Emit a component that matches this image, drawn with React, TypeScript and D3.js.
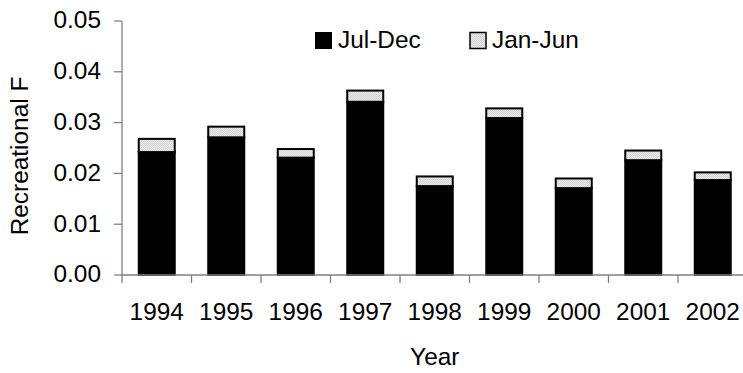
import React from "react";
import * as d3 from "d3";

const years = ["1994", "1995", "1996", "1997", "1998", "1999", "2000", "2001", "2002"];
const julDec = [0.0242, 0.0271, 0.0231, 0.0341, 0.0175, 0.0309, 0.0171, 0.0226, 0.0187];
const janJun = [0.0026, 0.0021, 0.0017, 0.0022, 0.0019, 0.0019, 0.0019, 0.0019, 0.0015];
const yTicks = [0, 0.01, 0.02, 0.03, 0.04, 0.05];
const seriesNames = ["Jul-Dec", "Jan-Jun"];

const W = 743;
const H = 373;
const FONT = "'Liberation Sans', Arial, sans-serif";
const FS = 24.4;

export default function App() {
  const x0 = 122;
  const x1 = 747.5;
  const yTop = 21;
  const yBot = 275;
  const y = d3.scaleLinear().domain([0, 0.05]).range([yBot, yTop]);
  const x = d3.scaleBand<string>().domain(years).range([x0, x1]).padding(0);
  const bw = 36;

  return (
    <svg width={W} height={H} style={{ position: "absolute", left: 0, top: 0, background: "#fff" }} fontFamily={FONT}>
      <defs>
        <pattern id="dots" width="2" height="2" patternUnits="userSpaceOnUse">
          <rect width="2" height="2" fill="#e9e9e9" />
          <rect width="1" height="1" fill="#d4d4d4" />
          <rect x="1" y="1" width="1" height="1" fill="#d4d4d4" />
        </pattern>
      </defs>
      {years.map((yr, i) => {
        const cx = (x(yr) as number) + x.bandwidth() / 2;
        const left = cx - bw / 2;
        const total = julDec[i] + janJun[i];
        return (
          <g key={yr}>
            <rect x={left} y={y(julDec[i])} width={bw} height={yBot - y(julDec[i])} fill="#000" stroke="#000" strokeWidth={2} />
            <rect x={left} y={y(total)} width={bw} height={y(julDec[i]) - y(total)} fill="url(#dots)" stroke="#000" strokeWidth={2} />
          </g>
        );
      })}
      <line x1={x0} x2={x0} y1={yTop} y2={yBot} stroke="#808080" strokeWidth={1.3} />
      {yTicks.map((t) => (
        <g key={t}>
          <line x1={x0 - 8} x2={x0} y1={y(t)} y2={y(t)} stroke="#808080" strokeWidth={1.3} />
          <text x={101} y={y(t)} dy="0.3em" textAnchor="end" fontSize={FS} fill="#000">
            {d3.format(".2f")(t)}
          </text>
        </g>
      ))}
      <line x1={x0} x2={x1} y1={yBot} y2={yBot} stroke="#808080" strokeWidth={1.3} />
      {years.map((yr) => (
        <line key={yr} x1={x(yr) as number} x2={x(yr) as number} y1={yBot} y2={yBot + 8} stroke="#808080" strokeWidth={1.3} />
      ))}
      {years.map((yr) => (
        <text key={yr} x={(x(yr) as number) + x.bandwidth() / 2} y={320} textAnchor="middle" fontSize={FS} fill="#000">
          {yr}
        </text>
      ))}
      <text x={(x0 + x1) / 2} y={365} textAnchor="middle" fontSize={FS} fill="#000">
        Year
      </text>
      <text transform={`translate(28,156) rotate(-90)`} textAnchor="middle" fontSize={FS} fill="#000">
        Recreational F
      </text>
      <rect x={315.5} y={32.5} width={16} height={16} fill="#000" stroke="#000" strokeWidth={1} />
      <text x={338} y={48} fontSize={FS} fill="#000">{seriesNames[0]}</text>
      <rect x={470} y={32.5} width={16} height={16} fill="url(#dots)" stroke="#000" strokeWidth={1.5} />
      <text x={492} y={48} fontSize={FS} fill="#000">{seriesNames[1]}</text>
    </svg>
  );
}
